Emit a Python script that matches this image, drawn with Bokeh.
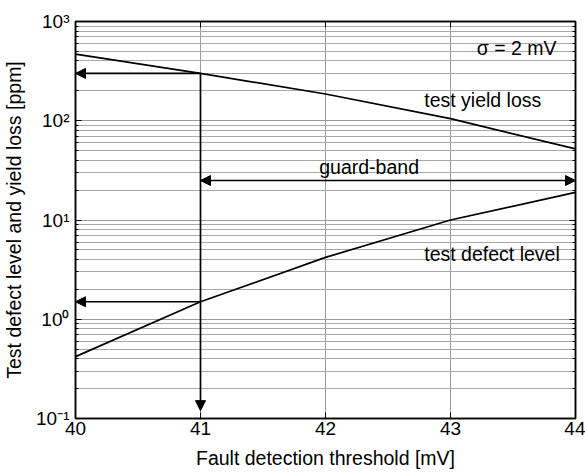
from bokeh.plotting import figure
from bokeh.models import (Label, Arrow, NormalHead, LogAxis, LinearAxis, FixedTicker,
                          CustomJSTickFormatter)
from bokeh.embed import file_html
from bokeh.resources import INLINE

# ---- data ----
threshold_mv = [40, 41, 42, 43, 44]
yield_loss_ppm = [470, 300, 186, 105, 52]
defect_level_ppm = [0.42, 1.5, 4.2, 10, 19]

x_ticks = [40, 41, 42, 43, 44]
y_ticks = [0.1, 1, 10, 100, 1000]
y_tick_labels = ["10\u207b\u00b9", "10\u2070", "10\u00b9", "10\u00b2", "10\u00b3"]

guard_threshold = 41
guard_yield = 300
guard_defect = 1.5
guard_band_level = 25

FONT = "Liberation Sans"
FS = "19.5px"

minor = []
for d in y_ticks[:-1]:
    for m in range(2, 10):
        minor.append(d * m)

xt = FixedTicker(ticks=x_ticks, minor_ticks=[])
yt = FixedTicker(ticks=y_ticks, minor_ticks=minor)

def blank():
    return CustomJSTickFormatter(code="return ''")

p = figure(width=585, height=475, x_range=(40, 44), y_range=(0.1, 1000),
           y_axis_type="log", output_backend="svg", toolbar_location=None,
           min_border_left=71, min_border_right=10, min_border_top=21,
           min_border_bottom=57)
p.background_fill_color = "white"
p.border_fill_color = "white"
p.outline_line_color = "black"
p.outline_line_width = 1.5

xa = p.below[0]
ya = p.left[0]
xa.ticker = xt
ya.ticker = yt
p.xgrid.ticker = xt
p.ygrid.ticker = yt

for ax in (xa, ya):
    ax.axis_line_color = "black"
    ax.axis_line_width = 1.5
    ax.major_tick_in = 6
    ax.major_tick_out = 0
    ax.minor_tick_in = 3
    ax.minor_tick_out = 0
    ax.major_tick_line_color = "black"
    ax.minor_tick_line_color = "black"
    ax.axis_label_text_font = FONT
    ax.axis_label_text_font_size = FS
    ax.axis_label_text_font_style = "normal"
    ax.axis_label_text_color = "black"
    ax.major_label_text_font = FONT
    ax.major_label_text_font_size = "19px"
    ax.major_label_text_color = "black"

xa.major_label_standoff = 3
xa.axis_label = "Fault detection threshold [mV]"
xa.axis_label_standoff = 9

ya.major_label_overrides = {v: t for v, t in zip(y_ticks, y_tick_labels)}
ya.major_label_standoff = 6
ya.axis_label = "Test defect level and yield loss [ppm]"
ya.axis_label_standoff = 8

top = LinearAxis(ticker=xt, formatter=blank(), major_label_text_font_size="10px",
                 major_label_standoff=0,
                 major_tick_in=6, major_tick_out=0, minor_tick_in=0, minor_tick_out=0,
                 axis_line_color="black", axis_line_width=1.5)
right = LogAxis(ticker=yt, formatter=blank(), major_label_text_font_size="10px",
                major_label_standoff=0,
                major_tick_in=6, major_tick_out=0, minor_tick_in=3, minor_tick_out=0,
                axis_line_color="black", axis_line_width=1.5)
p.add_layout(top, "above")
p.add_layout(right, "right")

for g in (p.xgrid, p.ygrid):
    g.grid_line_color = "#9a9a9a"
    g.grid_line_width = 1
p.ygrid.minor_grid_line_color = "#a8a8a8"
p.ygrid.minor_grid_line_width = 1

# ---- data lines ----
p.line(threshold_mv, yield_loss_ppm, line_color="black", line_width=1.7)
p.line(threshold_mv, defect_level_ppm, line_color="black", line_width=1.7)

# ---- arrows ----
def head():
    return NormalHead(size=10, fill_color="black", line_color="black")

p.add_layout(Arrow(end=head(), x_start=guard_threshold, y_start=guard_yield,
                   x_end=threshold_mv[0], y_end=guard_yield, line_width=1.7))
p.add_layout(Arrow(end=head(), x_start=guard_threshold, y_start=guard_yield,
                   x_end=guard_threshold, y_end=0.12, line_width=1.7))
p.add_layout(Arrow(end=head(), x_start=guard_threshold, y_start=guard_defect,
                   x_end=threshold_mv[0], y_end=guard_defect, line_width=1.7))
p.add_layout(Arrow(start=head(), end=head(), x_start=guard_threshold, y_start=guard_band_level,
                   x_end=threshold_mv[-1], y_end=guard_band_level, line_width=1.7))

# ---- text labels ----
def lab(x, y, t):
    p.add_layout(Label(x=x, y=y, text=t, text_font=FONT, text_font_size=FS,
                       text_baseline="middle", text_align="left", text_color="black"))

lab(43.21, 546, "σ = 2 mV")
lab(42.79, 163, "test yield loss")
lab(41.95, 34, "guard-band")
lab(42.79, 4.5, "test defect level")

open("out.html", "w").write(file_html(p, INLINE))
